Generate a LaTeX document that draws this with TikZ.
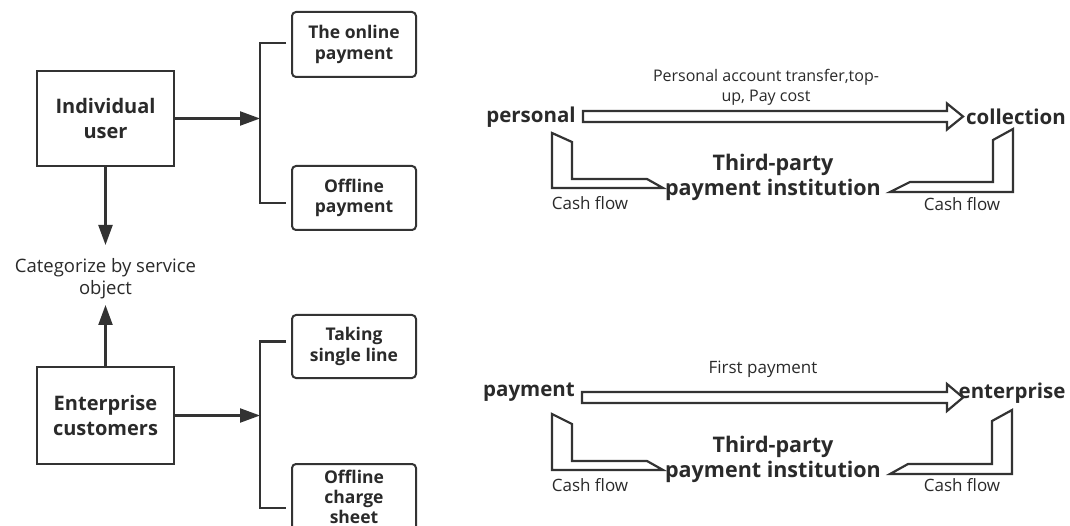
\documentclass[tikz,border=0pt]{standalone}
\usepackage{fontspec}
\setmainfont{Open Sans}
\usetikzlibrary{arrows.meta,positioning}
\definecolor{ink}{HTML}{333333}
\definecolor{txt}{HTML}{2A2A2A}
\tikzset{
  bigbox/.style={draw=ink,line width=2.2pt,minimum width=137pt,align=center,text=txt,font=\fontsize{20}{24.5}\selectfont\bfseries},
  smallbox/.style={draw=ink,line width=2pt,rounded corners=4pt,minimum width=124pt,align=center,text=txt,font=\fontsize{17.5}{20.5}\selectfont\bfseries},
  arr/.style={draw=ink,line width=2.2pt,-{Triangle[length=20pt,width=14pt]}},
  br/.style={draw=ink,line width=2.2pt},
  lbl/.style={text=txt,align=center,font=\fontsize{17}{20}\selectfont},
  end/.style={text=txt,font=\fontsize{20.5}{22}\selectfont\bfseries},
  third/.style={text=txt,align=center,font=\fontsize{21.5}{25}\selectfont\bfseries},
  hollow/.style={draw=ink,line width=2.2pt,fill=white,line join=miter},
}
\begin{document}
\begin{tikzpicture}[x=1pt,y=-1pt]
\clip (0,0) rectangle (1070,526);
\fill[white] (0,0) rectangle (1070,526);
% left part
\node[bigbox,minimum height=95pt] (ind) at (105.5,118.5) {Individual\\user};
\node[bigbox,minimum height=97pt] (ent) at (105.5,415.5) {Enterprise\\customers};
\node[smallbox,minimum height=65pt] (onl) at (354,44.5) {The online\\payment};
\node[smallbox,minimum height=64pt] (off) at (354,198) {Offline\\payment};
\node[smallbox,minimum height=63pt] (tak) at (354,346.5) {Taking\\single line};
\node[smallbox,minimum height=82pt] (chsbox) at (354,505) {};
\node[text=txt,align=center,font=\fontsize{17.5}{20}\selectfont\bfseries] (chs) at (354,497) {Offline\\charge\\sheet};
\node[lbl,font=\fontsize{18.5}{22}\selectfont] (cat) at (105.5,279) {Categorize by service\\object};
\coordinate (br1) at (260,118.5);
\coordinate (br2) at (260,415.5);
\coordinate (dn) at (105.5,245);
\coordinate (up) at (105.5,305);
\draw[arr] (ind.east) -- (br1);
\draw[arr] (ent.east) -- (br2);
\draw[arr] (ind.south) -- (dn);
\draw[arr] (ent.north) -- (up);
\draw[br] ([xshift=-5pt,yshift=1.5pt]onl.west) -| (br1) |- ([xshift=-5pt,yshift=-5pt]off.west);
\draw[br] ([xshift=-5pt,yshift=5pt]tak.west) -| (br2) |- ([xshift=-5pt,yshift=-3pt]chsbox.west);
% right part, top
\node[end] (pers) at (531,117) {personal};
\node[end] (coll) at (1016,117) {collection};
\node[lbl,font=\fontsize{16}{20}\selectfont] (top1) at (766,87) {Personal account transfer,top-\\up, Pay cost};
\node[third] (tp1) at (773,177) {Third-party\\payment institution};
\node[lbl] (cf1) at (590,203) {Cash flow};
\node[lbl] (cf2) at (962,204) {Cash flow};
\draw[hollow] (583,111) -- (947,111) -- (947,103.5) -- (963,116.5) -- (947,129.5) -- (947,122) -- (583,122) -- cycle;
\draw[hollow] (552,133) -- (572,142) -- (572,179) -- (647,179) -- (663,188) -- (552,188) -- cycle;
\draw[hollow] (1013,129) -- (993,140) -- (993,182) -- (910,182) -- (890,192) -- (1013,192) -- cycle;
% right part, bottom
\node[end] (pay) at (529,392) {payment};
\node[end] (entr) at (1012,393) {enterprise};
\node[lbl] (top2) at (763,369) {First payment};
\node[third] (tp2) at (773,459) {Third-party\\payment institution};
\node[lbl] (cf3) at (590,485) {Cash flow};
\node[lbl] (cf4) at (962,485) {Cash flow};
\draw[hollow] (582,392) -- (947,392) -- (947,384) -- (963,397.5) -- (947,411) -- (947,403) -- (582,403) -- cycle;
\draw[hollow] (552,414) -- (572,424) -- (572,461) -- (647,461) -- (663,470) -- (552,470) -- cycle;
\draw[hollow] (1012,410) -- (992,421) -- (992,464) -- (908,464) -- (890,474) -- (1012,474) -- cycle;
\end{tikzpicture}
\end{document}
